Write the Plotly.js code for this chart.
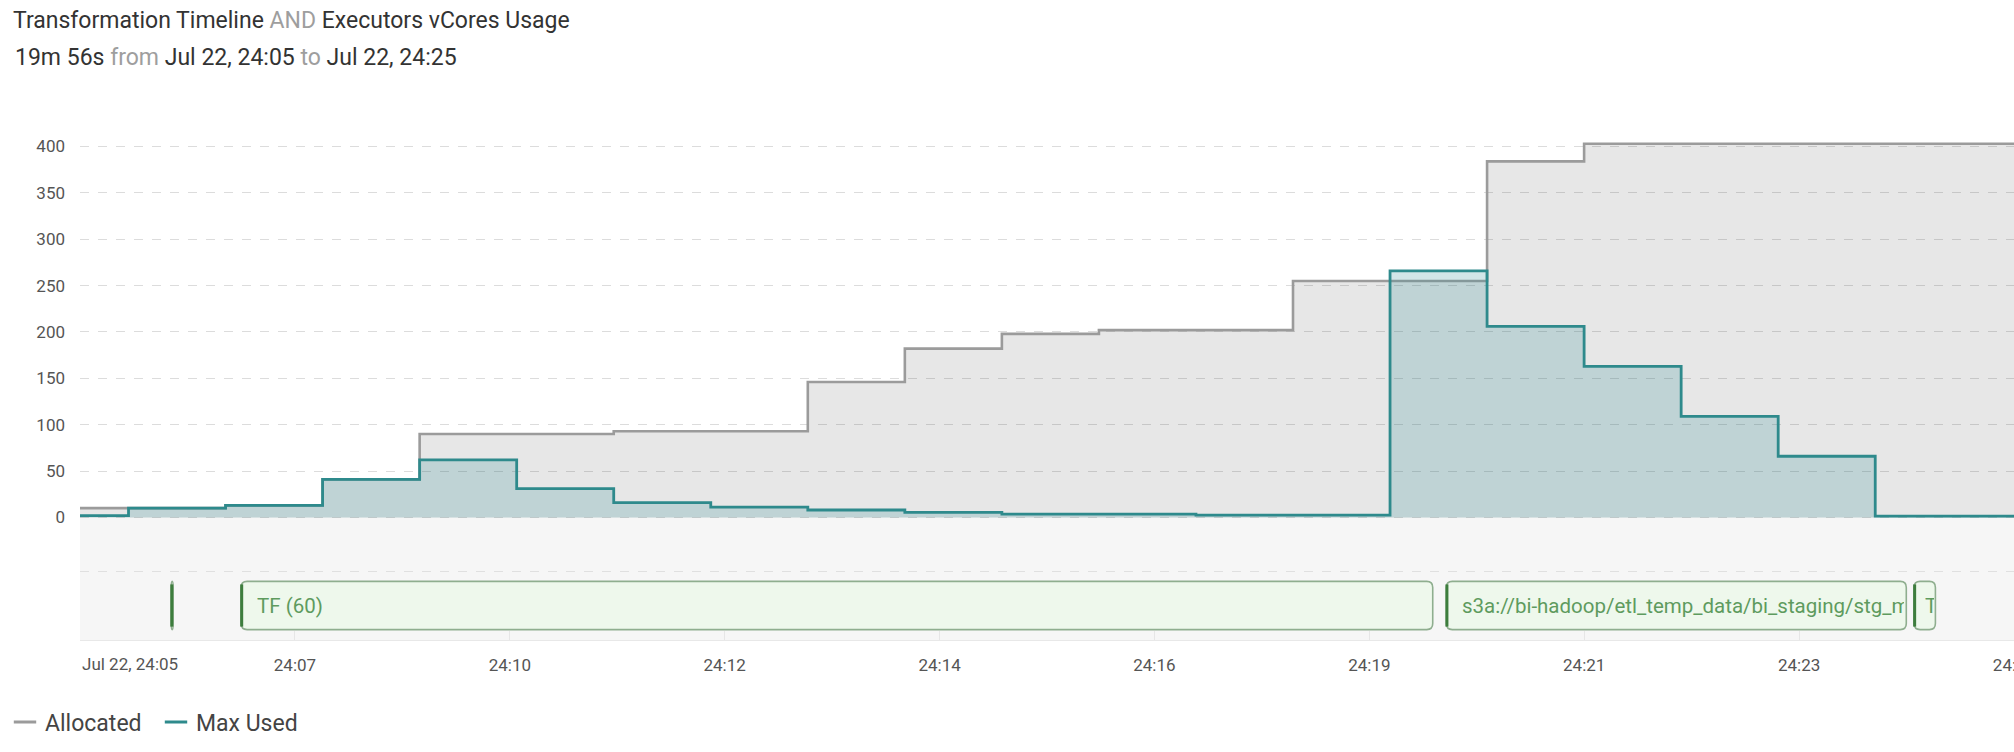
<!DOCTYPE html>
<html><head><meta charset="utf-8">
<script src="https://cdn.plot.ly/plotly-3.0.1.min.js"></script>
<style>html,body{margin:0;padding:0;background:#fff;overflow:hidden}#chart{width:2014px;height:752px}</style>
</head><body><div id="chart"></div><script>
// ---- data (minutes after Jul 22, 24:05) ----
const stepMinutes = [0, 0.5, 1.5, 2.5, 3.5, 4.5, 5.5, 6.5, 7.5, 8.5, 9.5, 10.5, 11.5, 12.5, 13.5, 14.5, 15.5, 16.5, 17.5, 18.5, 19.93];
const allocated   = [10, 10, 13, 41, 90, 90, 93, 93, 146, 182, 198, 202, 202, 255, 255, 384, 403, 403, 403, 403, 403];
const maxUsed     = [2, 10, 13, 41, 62, 31, 16, 11, 8, 5.5, 3.5, 3.5, 2.5, 2.5, 266, 206, 163, 109, 66, 1.5, 1.5];
const seriesNames = ['Allocated', 'Max Used'];
const seriesColors = ['#9b9b9b', '#2e8a8c'];

const taskLabels = ['', 'TF (60)', 's3a://bi-hadoop/etl_temp_data/bi_staging/stg_m', 'TF'];
const taskStart  = [0.94, 1.66, 14.08, 18.90];
const taskEnd    = [0.96, 13.94, 18.82, 19.12];

const tickMinutes = [0, 2.215, 4.43, 6.643, 8.858, 11.072, 13.287, 15.501, 17.716, 19.93];
const tickLabels  = ['Jul 22, 24:05', '24:07', '24:10', '24:12', '24:14', '24:16', '24:19', '24:21', '24:23', '24:25'];
const yTicks      = [0, 50, 100, 150, 200, 250, 300, 350, 400];

// ---- layout constants ----
const W = 2014, H = 752;
const M = {l: 80, r: 0, t: 128, b: 112};
const xRange = [0, 19.93];
const yRange = [-132.2, 420];
const plotW = W - M.l - M.r, plotH = H - M.t - M.b;
const pxPerX = plotW / (xRange[1] - xRange[0]);
const pxPerY = plotH / (yRange[1] - yRange[0]);
const laneTop = -69, laneBottom = -121, laneDivider = -58.3;
const FONT = 'Roboto, "Open Sans", sans-serif';
const paperX = px => (px - M.l) / plotW;
const paperY = py => (H - M.b - py) / plotH;

const traces = [
  {x: stepMinutes, y: allocated, name: seriesNames[0], type: 'scatter', mode: 'lines', showlegend: false,
   line: {shape: 'hv', color: seriesColors[0], width: 2.6}, fill: 'tozeroy', fillcolor: 'rgba(0,0,0,0.095)',
   hoverinfo: 'skip'},
  {x: stepMinutes, y: maxUsed, name: seriesNames[1], type: 'scatter', mode: 'lines', showlegend: false,
   line: {shape: 'hv', color: seriesColors[1], width: 2.8}, fill: 'tozeroy', fillcolor: 'rgba(50,140,150,0.22)',
   hoverinfo: 'skip'}
];
// legend entries (short dash symbols)
seriesNames.forEach((n, i) => traces.push({
  x: [null], y: [null], name: n, type: 'scatter', mode: 'markers', showlegend: true, hoverinfo: 'skip',
  marker: {symbol: 'line-ew-open', size: 16, color: seriesColors[i], line: {color: seriesColors[i], width: 3}}
}));

const shapes = [
  {type: 'rect', xref: 'paper', yref: 'y', x0: 0, x1: 1, y0: yRange[0], y1: 0,
   fillcolor: '#f6f6f6', line: {width: 0}, layer: 'below'},
  {type: 'line', xref: 'paper', yref: 'y', x0: 0, x1: 1, y0: laneDivider, y1: laneDivider,
   line: {color: '#e0e0e0', width: 1.2, dash: 'dash'}, layer: 'below'}
];
const annotations = [];

for (let i = 0; i < taskLabels.length; i++) {
  const x0 = taskStart[i], x1 = taskEnd[i];
  const wpx = (x1 - x0) * pxPerX;
  const rx = Math.min(6 / pxPerX, (x1 - x0) / 2), ry = 6 / pxPerY;
  const y0 = laneBottom, y1 = laneTop;
  const path = `M${x0 + rx},${y1} L${x1 - rx},${y1} Q${x1},${y1} ${x1},${y1 - ry} L${x1},${y0 + ry} Q${x1},${y0} ${x1 - rx},${y0} L${x0 + rx},${y0} Q${x0},${y0} ${x0},${y0 + ry} L${x0},${y1 - ry} Q${x0},${y1} ${x0 + rx},${y1} Z`;
  shapes.push({type: 'path', xref: 'x', yref: 'y', path: path,
    fillcolor: '#eef8ec', line: {color: '#8fae8f', width: 1.6}, layer: 'above'});
  shapes.push({type: 'line', xref: 'x', yref: 'y', x0: x0 + 0.6 / pxPerX, x1: x0 + 0.6 / pxPerX,
    y0: y0 + ry * 0.5, y1: y1 - ry * 0.5, line: {color: '#3d7d3d', width: 3}, layer: 'above'});
  if (taskLabels[i]) {
    const pad = wpx > 60 ? 15 : 10;
    annotations.push({xref: 'x', yref: 'y', x: x0, y: (laneTop + laneBottom) / 2,
      xanchor: 'left', yanchor: 'middle', xshift: pad, showarrow: false, align: 'left',
      width: Math.max(9, wpx - pad - 3), borderpad: 0,
      text: taskLabels[i], font: {family: FONT, size: 20.5, color: '#5e9b5e'}});
  }
}

// first tick label is left-aligned at the axis start
annotations.push({xref: 'x', yref: 'paper', x: tickMinutes[0], y: paperY(664), xanchor: 'left', yanchor: 'middle',
  showarrow: false, text: tickLabels[0], font: {family: FONT, size: 17, color: '#555'}});

// subtitle line
annotations.push({xref: 'paper', yref: 'paper', x: paperX(13), y: paperY(57), xanchor: 'left', yanchor: 'middle',
  showarrow: false, align: 'left',
  text: '19m 56s <span style="color:#9e9e9e">from</span> Jul 22, 24:05 <span style="color:#9e9e9e">to</span> Jul 22, 24:25',
  font: {family: FONT, size: 23, color: '#333'}});

const layout = {
  width: W, height: H,
  margin: M,
  paper_bgcolor: '#fff', plot_bgcolor: 'rgba(0,0,0,0)',
  title: {text: 'Transformation Timeline <span style="color:#9e9e9e">AND</span> Executors vCores Usage',
    xref: 'container', x: 13 / W, xanchor: 'left', yref: 'container', y: 1 - 20 / H, yanchor: 'middle',
    font: {family: FONT, size: 23, color: '#333'}},
  showlegend: true,
  legend: {orientation: 'h', x: paperX(5), xanchor: 'left', y: paperY(722), yanchor: 'middle',
    entrywidth: 106, entrywidthmode: 'pixels',
    itemsizing: 'trace', font: {family: FONT, size: 23, color: '#444'}, bgcolor: 'rgba(0,0,0,0)'},
  xaxis: {range: xRange, type: 'linear', showgrid: false, zeroline: false,
    tickmode: 'array', tickvals: tickMinutes, ticktext: [''].concat(tickLabels.slice(1)),
    ticks: 'inside', ticklen: 9, tickcolor: '#e6e6e6', tickwidth: 1,
    showline: true, linecolor: '#e8e8e8', linewidth: 1, ticklabeloverflow: 'allow',
    tickfont: {family: FONT, size: 17, color: '#555'}, ticklabelstandoff: 10, fixedrange: true},
  yaxis: {range: yRange, showgrid: true, gridcolor: '#dcdcdc', griddash: 'dash', gridwidth: 1,
    zeroline: false, tickmode: 'array', tickvals: yTicks, ticktext: yTicks.map(String),
    tickfont: {family: FONT, size: 17, color: '#555'}, ticklabelstandoff: 14, fixedrange: true},
  shapes: shapes,
  annotations: annotations
};

Plotly.newPlot('chart', traces, layout, {displayModeBar: false, staticPlot: true});
</script></body></html>
